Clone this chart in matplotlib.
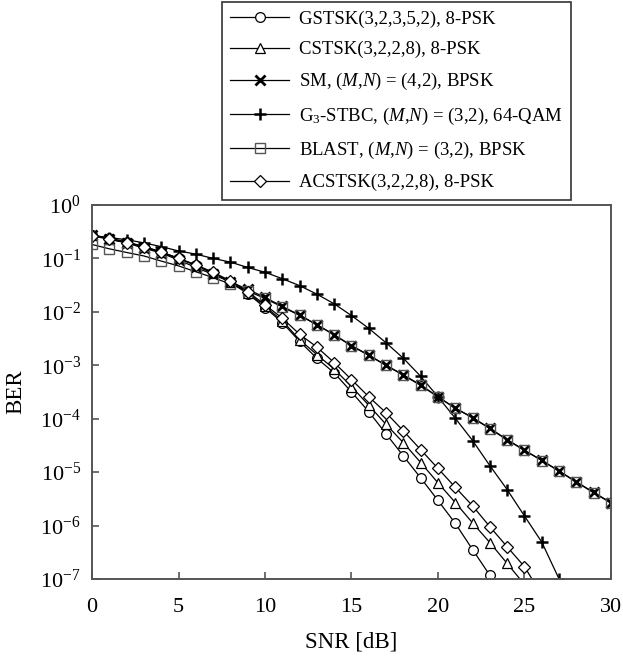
import matplotlib
matplotlib.use("Agg")
import matplotlib.pyplot as plt
import numpy as np

plt.rcParams['font.family'] = 'Liberation Serif'
plt.rcParams['mathtext.fontset'] = 'custom'
plt.rcParams['mathtext.rm'] = 'Liberation Serif'
plt.rcParams['mathtext.it'] = 'Liberation Serif:italic'
plt.rcParams['mathtext.default'] = 'regular'

# BER values, SNR in dB
gstsk_snr = list(range(0, 25))
gstsk_ber = [0.275, 0.240, 0.204, 0.166, 0.132, 0.100, 0.0741, 0.0525, 0.0355, 0.0219,
             0.012, 6.3e-3, 2.8e-3, 1.35e-3, 7.2e-4, 3.16e-4, 1.35e-4, 5.2e-5, 2.0e-5,
             7.8e-6, 2.95e-6, 1.10e-6, 3.55e-7, 1.17e-7, 3.5e-8]

cstsk_snr = list(range(0, 26))
cstsk_ber = [0.269, 0.234, 0.200, 0.166, 0.132, 0.100, 0.0741, 0.0525, 0.0363, 0.0229,
             0.0126, 6.8e-3, 3.0e-3, 1.58e-3, 8.5e-4, 4.0e-4, 1.78e-4, 7.8e-5, 3.55e-5,
             1.51e-5, 6.3e-6, 2.7e-6, 1.12e-6, 4.8e-7, 1.95e-7, 7.9e-8]

sm_snr = list(range(0, 31))
sm_ber = [0.275, 0.229, 0.195, 0.155, 0.126, 0.0933, 0.0676, 0.0501, 0.0363, 0.0263,
          0.0186, 0.0126, 8.7e-3, 5.75e-3, 3.72e-3, 2.34e-3, 1.55e-3, 1.0e-3, 6.6e-4,
          4.27e-4, 2.57e-4, 1.58e-4, 1.05e-4, 6.6e-5, 4.07e-5, 2.57e-5, 1.66e-5,
          1.05e-5, 6.6e-6, 4.17e-6, 2.69e-6]

g3_snr = list(range(0, 28))
g3_ber = [0.263, 0.245, 0.224, 0.195, 0.166, 0.138, 0.120, 0.100, 0.0851, 0.0676,
          0.0550, 0.0417, 0.0309, 0.0214, 0.0141, 8.5e-3, 4.9e-3, 2.63e-3, 1.35e-3,
          6.2e-4, 2.57e-4, 1.02e-4, 3.9e-5, 1.32e-5, 4.7e-6, 1.51e-6, 4.9e-7, 1.0e-7]

blast_snr = list(range(0, 31))
blast_ber = [0.182, 0.151, 0.129, 0.111, 0.0891, 0.0724, 0.0562, 0.0437, 0.0331, 0.0245,
             0.0178, 0.0123, 8.6e-3, 5.7e-3, 3.7e-3, 2.3e-3, 1.53e-3, 9.9e-4, 6.5e-4,
             4.2e-4, 2.55e-4, 1.57e-4, 1.04e-4, 6.5e-5, 4.0e-5, 2.55e-5, 1.65e-5,
             1.04e-5, 6.5e-6, 4.1e-6, 2.65e-6]

acstsk_snr = list(range(0, 27))
acstsk_ber = [0.263, 0.229, 0.195, 0.162, 0.129, 0.100, 0.0759, 0.0550, 0.0380, 0.0240,
              0.0135, 7.6e-3, 3.8e-3, 2.19e-3, 1.12e-3, 5.4e-4, 2.57e-4, 1.29e-4, 5.9e-5,
              2.63e-5, 1.17e-5, 5.2e-6, 2.34e-6, 9.5e-7, 4.0e-7, 1.7e-7, 5.0e-8]

labels = ['GSTSK(3,2,3,5,2), 8-PSK',
          'CSTSK(3,2,2,8), 8-PSK',
          'SM, ($\\mathit{M}$,$\\mathit{N}$) = (4,2), BPSK',
          'G$_3$-STBC, ($\\mathit{M}$,$\\mathit{N}$) = (3,2), 64-QAM',
          'BLAST, ($\\mathit{M}$,$\\mathit{N}$) = (3,2), BPSK',
          'ACSTSK(3,2,2,8), 8-PSK']

fig = plt.figure(figsize=(6.23, 6.59), dpi=100)
ax = fig.add_axes([0.1477, 0.1214, 0.833, 0.5676])

ms = 7
ax.semilogy(gstsk_snr, gstsk_ber, 'k-', lw=0.9, marker='o', ms=ms, mfc='white', mec='k', mew=0.9, label=labels[0])
ax.semilogy(cstsk_snr, cstsk_ber, 'k-', lw=0.9, marker='^', ms=ms, mfc='white', mec='k', mew=0.9, label=labels[1])
ax.semilogy(sm_snr, sm_ber, 'k-', lw=0.9, marker='x', ms=ms, mec='k', mew=2.0, label=labels[2])
ax.semilogy(g3_snr, g3_ber, 'k-', lw=0.9, marker='+', ms=9, mec='k', mew=1.8, label=labels[3])
ax.semilogy(blast_snr, blast_ber, 'k-', lw=0.9, marker='s', ms=6.5, mfc='none', mec='#555555', mew=1.0, label=labels[4])
ax.semilogy(acstsk_snr, acstsk_ber, 'k-', lw=0.9, marker='D', ms=6, mfc='white', mec='k', mew=0.9, label=labels[5])

ax.set_xlim(0, 30)
ax.set_ylim(1e-7, 1)
ax.set_xticks([0, 5, 10, 15, 20, 25, 30])
ax.set_yticks([10.0**k for k in range(-7, 1)])
ax.minorticks_off()
ax.tick_params(direction='in', length=5, width=1.2, color='#555555', labelsize=16)
ax.tick_params(axis='x', pad=14)
ax.tick_params(axis='y', pad=8)
ax.tick_params(top=False, right=False)
for s in ax.spines.values():
    s.set_color('#555555')
    s.set_linewidth(1.4)

ax.set_xlabel('SNR [dB]', fontsize=16.5, labelpad=10)
ax.set_ylabel('BER', fontsize=16.5, labelpad=10)

leg = fig.legend(loc='upper left', bbox_to_anchor=(222 / 623, 1 - 2 / 659), fontsize=13.5,
                 numpoints=1, handlelength=3.1, fancybox=False, framealpha=1,
                 borderpad=0.45, labelspacing=0.7, handletextpad=0.55, borderaxespad=0)
leg.get_frame().set_edgecolor('#333333')
leg.get_frame().set_linewidth(1.2)

fig.savefig('out.png', dpi=100)
